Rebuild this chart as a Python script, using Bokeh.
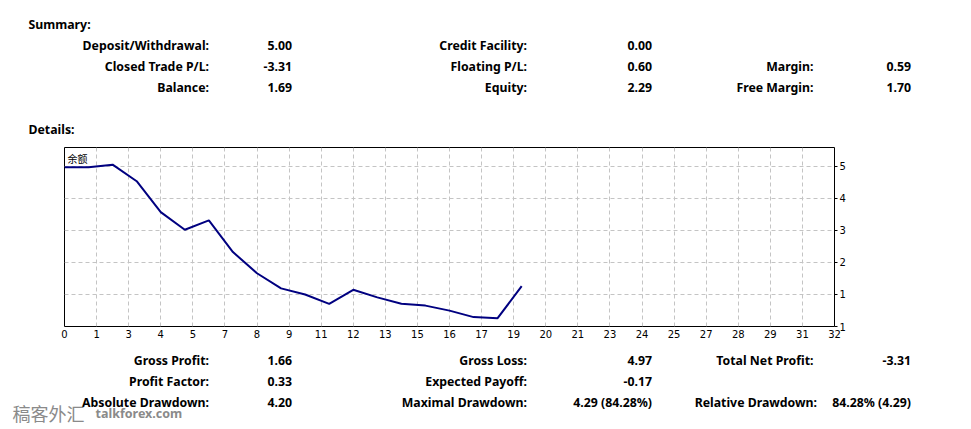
import numpy as np
from bokeh.plotting import figure
from bokeh.layouts import column
from bokeh.models import Range1d, FixedTicker, Label
from bokeh.core.properties import value
from bokeh.embed import file_html
from bokeh.resources import INLINE

# ---------------- data ----------------
trade_no = list(range(20))
balance = [5.00, 5.00, 5.07, 4.61, 3.75, 3.26, 3.52, 2.64, 2.05, 1.63,
           1.46, 1.20, 1.59, 1.38, 1.20, 1.15, 1.01, 0.83, 0.80, 1.69]

x_tick_labels = ["0", "1", "3", "4", "5", "7", "8", "9", "11", "12", "13", "15", "16",
                 "17", "19", "20", "21", "23", "24", "25", "27", "28", "29", "31", "32"]
y_ticks = [0.569, 1.462, 2.354, 3.247, 4.139, 5.032]
y_tick_labels = ["1", "1", "2", "3", "4", "5"]

sum_c1_labels = ["Deposit/Withdrawal:", "Closed Trade P/L:", "Balance:"]
sum_c1_values = ["5.00", "-3.31", "1.69"]
sum_c2_labels = ["Credit Facility:", "Floating P/L:", "Equity:"]
sum_c2_values = ["0.00", "0.60", "2.29"]
sum_c3_labels = ["", "Margin:", "Free Margin:"]
sum_c3_values = ["", "0.59", "1.70"]

det_c1_labels = ["Gross Profit:", "Profit Factor:", "Absolute Drawdown:"]
det_c1_values = ["1.66", "0.33", "4.20"]
det_c2_labels = ["Gross Loss:", "Expected Payoff:", "Maximal Drawdown:"]
det_c2_values = ["4.97", "-0.17", "4.29 (84.28%)"]
det_c3_labels = ["Total Net Profit:", "", "Relative Drawdown:"]
det_c3_values = ["-3.31", "", "84.28% (4.29)"]

# ---------------- layout ----------------
W = 971
TOP_H, CHART_H, BOT_H = 140, 210, 79
FL, FR = 64, 834
CH_TOP, CH_BOT = 7, 24

FONT = "Noto Sans"
FS = "12.3px"


def text_fig(y0, y1):
    f = figure(width=W, height=y1 - y0, x_range=Range1d(0, W), y_range=Range1d(y1, y0),
               output_backend="svg", toolbar_location=None, frame_align=False,
               min_border=0, min_border_left=0, min_border_right=0,
               min_border_top=0, min_border_bottom=0)
    f.axis.visible = False
    f.grid.visible = False
    f.outline_line_color = None
    f.background_fill_color = "white"
    f.border_fill_color = "white"
    return f


def put(f, texts, xs, ys, align="right", bold=True, size=FS, color="black", font=FONT):
    items = [(t, x, y) for t, x, y in zip(texts, xs, ys) if t]
    if not items:
        return
    f.text(x=[i[1] for i in items], y=[i[2] for i in items], text=[i[0] for i in items],
           text_align=align, text_baseline="middle", text_font=value(font),
           text_font_size=value(size), text_color=color,
           text_font_style="bold" if bold else "normal")


# top text block
top = text_fig(0, TOP_H)
put(top, ["Summary:", "Details:"], [28, 28], [24, 128.5], align="left")
sum_rows = [44.5, 65.5, 86.5]
label_right = [208.5, 526.5, 813]
value_right = [291.5, 651.5, 910.5]
for ci, (labs, vals) in enumerate([(sum_c1_labels, sum_c1_values),
                                   (sum_c2_labels, sum_c2_values),
                                   (sum_c3_labels, sum_c3_values)]):
    put(top, labs, [label_right[ci]] * 3, sum_rows)
    put(top, vals, [value_right[ci]] * 3, sum_rows)

# chart
p = figure(width=W, height=CHART_H, x_range=Range1d(0, 32), y_range=Range1d(0.569, 5.548),
           y_axis_location="right", output_backend="svg", toolbar_location=None,
           frame_align=False,
           min_border_left=FL, min_border_right=W - FR, min_border_top=CH_TOP,
           min_border_bottom=CH_BOT)
p.outline_line_color = "black"
p.outline_line_width = 1
p.background_fill_color = "white"
p.border_fill_color = "white"

x_ticks = [float(v) for v in np.linspace(0, 32, len(x_tick_labels))]
p.xaxis.ticker = FixedTicker(ticks=x_ticks)
p.xaxis.major_label_overrides = {t: l for t, l in zip(x_ticks, x_tick_labels)}
p.yaxis.ticker = FixedTicker(ticks=y_ticks)
p.yaxis.major_label_overrides = {t: l for t, l in zip(y_ticks, y_tick_labels)}

for ax in (p.xaxis[0], p.yaxis[0]):
    ax.axis_line_color = None
    ax.minor_tick_line_color = None
    ax.major_tick_in = 0
    ax.major_label_text_font = "DejaVu Sans"
    ax.major_label_text_font_size = "10px"
    ax.major_label_text_color = "black"
p.xaxis.major_tick_out = 0
p.xaxis.major_label_standoff = 3
p.yaxis.major_tick_out = 3
p.yaxis.major_tick_line_color = "black"
p.yaxis.major_label_standoff = 2

p.xgrid.ticker = FixedTicker(ticks=x_ticks)
p.ygrid.ticker = FixedTicker(ticks=y_ticks)
p.grid.grid_line_color = "#c4c4c4"
p.grid.grid_line_dash = "4 3"
p.grid.grid_line_width = 1

p.line(trade_no, balance, line_color="#000080", line_width=2)

p.add_layout(Label(x=0, y=5.548, x_offset=3, y_offset=-3, text="余额",
                   text_font="Noto Sans CJK SC", text_font_size="10px",
                   text_baseline="top", text_color="black"))

# bottom text block
Y0 = TOP_H + CHART_H
bot = text_fig(Y0, Y0 + BOT_H)
det_rows = [359.5, 380.5, 401.5]
det_label_x = [[208.5] * 3, [526.5] * 3, [813, 813, 816.5]]
for ci, (labs, vals) in enumerate([(det_c1_labels, det_c1_values),
                                   (det_c2_labels, det_c2_values),
                                   (det_c3_labels, det_c3_values)]):
    put(bot, labs, det_label_x[ci], det_rows)
    put(bot, vals, [value_right[ci]] * 3, det_rows)

# watermark
put(bot, ["稿客外汇"], [12], [412], align="left", bold=False, size="18px",
    color="#8a8a8a", font="Noto Sans CJK SC")
put(bot, ["talkforex.com"], [95], [413], align="left", bold=True, size="12.5px",
    color="#8a8a8a")

layout = column(top, p, bot, spacing=0)
open("out.html", "w").write(file_html(layout, INLINE))
